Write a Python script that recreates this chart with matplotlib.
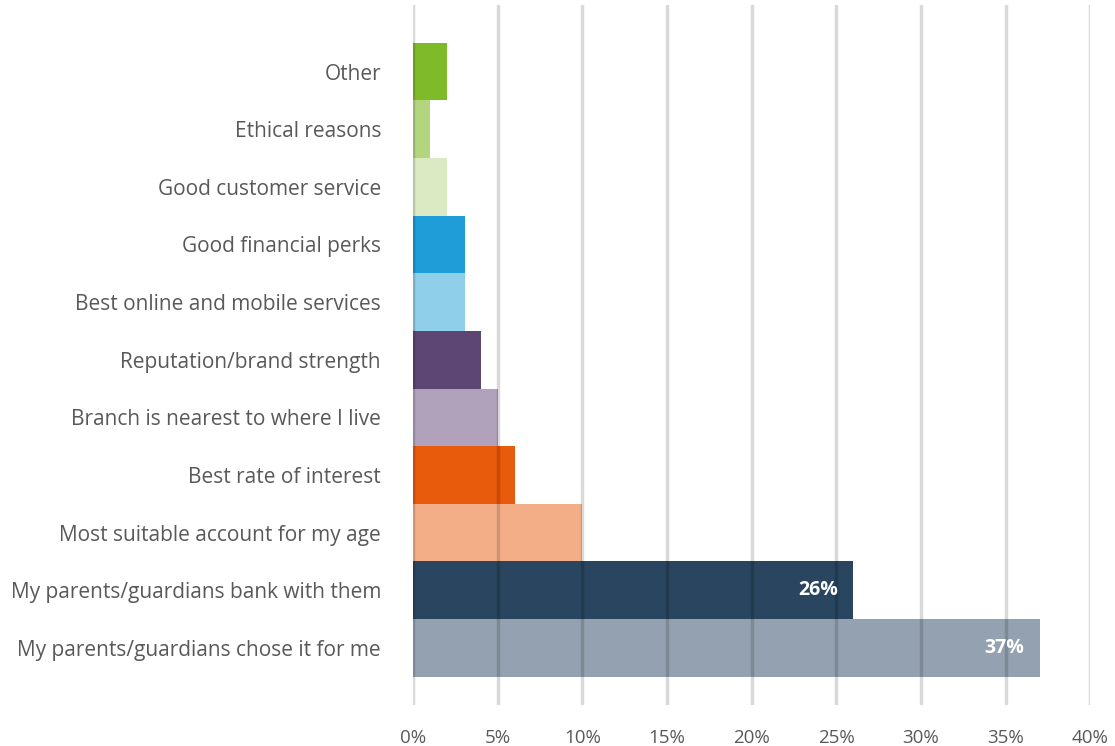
import matplotlib.pyplot as plt
from matplotlib.ticker import FuncFormatter

reasons = [
    "My parents/guardians chose it for me",
    "My parents/guardians bank with them",
    "Most suitable account for my age",
    "Best rate of interest",
    "Branch is nearest to where I live",
    "Reputation/brand strength",
    "Best online and mobile services",
    "Good financial perks",
    "Good customer service",
    "Ethical reasons",
    "Other",
]
shares = [37, 26, 10, 6, 5, 4, 3.1, 3.1, 2, 1, 2]
colors = ["#94a1b0", "#29455f", "#f3ae88", "#e85a0c", "#b0a2ba", "#5d4574",
          "#8fcfea", "#1e9dd8", "#dbeac3", "#b3d57e", "#7fba2a"]
labelled = {0: "37%", 1: "26%"}

plt.rcParams["font.family"] = ["Open Sans", "DejaVu Sans"]

fig = plt.figure(figsize=(11.15, 7.46), dpi=100)
ax = fig.add_axes([0.3704, 0.055, 0.6075, 0.938])

pos = range(len(reasons))
ax.barh(pos, shares, height=1.0, color=colors, zorder=2)

for x in range(0, 45, 5):
    ax.axvline(x, color="black", alpha=0.15, lw=2.5, zorder=3)

for i, txt in labelled.items():
    ax.text(shares[i] - 0.9, i, txt, ha="right", va="center",
            color="white", fontsize=14, fontweight="bold", zorder=4)

ax.set_xlim(0, 40)
ax.set_ylim(-0.99, 11.15)
ax.set_xticks(range(0, 45, 5))
ax.xaxis.set_major_formatter(FuncFormatter(lambda v, p: "%d%%" % v))
ax.set_yticks(list(pos))
ax.set_yticklabels(reasons)
ax.tick_params(axis="y", length=0, labelsize=15, colors="#595959", pad=23)
ax.tick_params(axis="x", length=0, labelsize=13.5, colors="#595959", pad=17)
for s in ax.spines.values():
    s.set_visible(False)

fig.savefig("out.png", dpi=100)
